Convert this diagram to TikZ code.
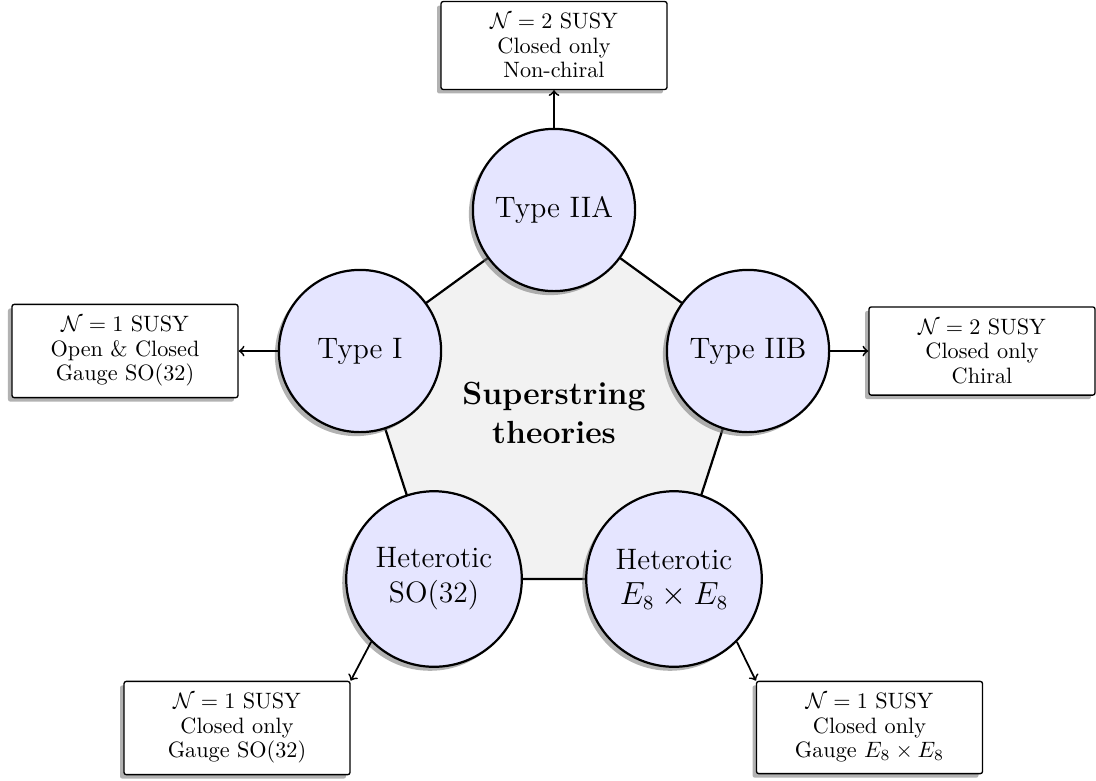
\documentclass[tikz,border=0pt]{standalone}
\usetikzlibrary{shadows,backgrounds}
\begin{document}
\begin{tikzpicture}[x=0.45pt,y=-0.45pt,
  myshadow/.style={drop shadow={shadow xshift=-1.8pt,shadow yshift=-1.8pt,fill=black!55,opacity=.55}},
  theory/.style={circle,draw=black,line width=1pt,fill=blue!10,align=center,
    font=\fontsize{13.3}{15.8}\selectfont,myshadow},
  info/.style={rectangle,rounded corners=1pt,draw=black,line width=0.6pt,fill=white,
    align=center,font=\fontsize{10}{11}\selectfont,minimum width=101.7pt,inner ysep=5.2pt,myshadow},
  link/.style={->,line width=0.8pt}]
\useasboundingbox (0,0) rectangle (1096,780);
% theory circles
\node[theory,minimum size=73pt] (iia) at (554,210) {Type IIA};
\node[theory,minimum size=73pt] (ti) at (360,351) {Type I};
\node[theory,minimum size=73pt] (iib) at (748,351) {Type IIB};
\node[theory,minimum size=79pt] (hso) at (434,579) {Heterotic\\SO(32)};
\node[theory,minimum size=79pt] (he8) at (674,579) {Heterotic\\$E_8\times E_8$};
% centre
\node[font=\fontsize{14.4}{17.2}\selectfont\bfseries,align=center] (ctr) at (554,413) {Superstring\\theories};
% pentagon
\begin{scope}[on background layer]
\draw[fill=gray!10,line width=1pt] (iia.center) -- (iib.center) -- (he8.center) -- (hso.center) -- (ti.center) -- cycle;
\end{scope}
% info boxes
\node[info] (biia) at (554,45.5) {$\mathcal{N}=2$ SUSY\\Closed only\\Non-chiral};
\node[info] (bti) at (125,351) {$\mathcal{N}=1$ SUSY\\Open \& Closed\\Gauge SO(32)};
\node[info] (biib) at (982,351) {$\mathcal{N}=2$ SUSY\\Closed only\\Chiral};
\node[info] (bhso) at (237,728) {$\mathcal{N}=1$ SUSY\\Closed only\\Gauge SO(32)};
\node[info] (bhe8) at (869.5,727.5) {$\mathcal{N}=1$ SUSY\\Closed only\\Gauge $E_8\times E_8$};
% arrows
\draw[link] (iia.north) -- (biia.south);
\draw[link] (ti.west) -- (bti.east);
\draw[link] (iib.east) -- (biib.west);
\draw[link] (hso.south west) -- (bhso.north east);
\draw[link] (he8.south east) -- (bhe8.north west);
\end{tikzpicture}
\end{document}
